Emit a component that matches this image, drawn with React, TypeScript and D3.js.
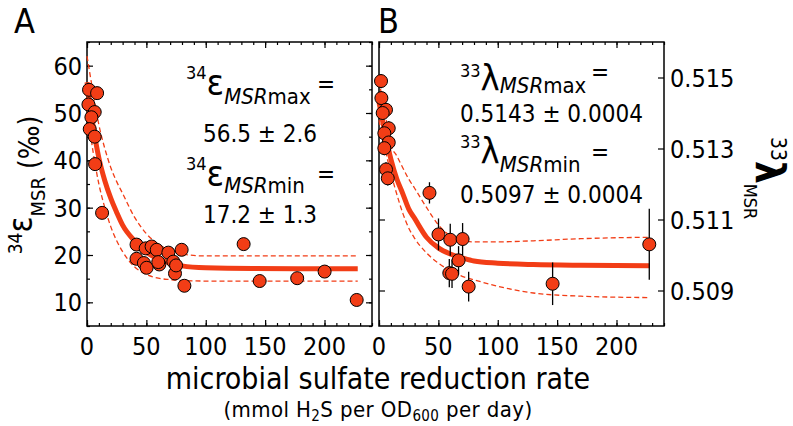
import React, { useEffect, useRef } from 'react';
import * as d3 from 'd3';

const W = 793;
const H = 426;
const FONT = "'DejaVu Sans Condensed', 'DejaVu Sans', sans-serif";
const RED = '#f23d16';

// panel A: sulfur isotope fractionation vs. rate
const rateA = [1.7, 8.5, 1.2, 6.5, 3.7, 2.3, 6.5, 6.8, 12.7, 41.7, 41.7, 47.9, 50.2, 49.4, 54.4, 58.7, 60.9, 60, 68.5, 72.7, 74.1, 75, 79.7, 82, 131.9, 145.4, 177, 200.1, 227.1];
const epsA = [54.9, 54.2, 51.8, 50.2, 49.1, 46.6, 45, 39.2, 28.9, 22.2, 19.2, 18.3, 17.3, 21.4, 21.8, 21.1, 18, 18.5, 20.5, 18.6, 16.1, 17.8, 21.1, 13.5, 22.3, 14.5, 15.1, 16.5, 10.5];

// fitted curve and its envelope
const fitRateA = [0, 5, 10, 15, 20, 25, 30, 40, 50, 60, 70, 80, 100, 140, 228];
const fitEpsA = [56.5, 47.5, 40.5, 35.7, 32, 29, 26.3, 23, 20.6, 19.2, 18.3, 17.7, 17.3, 17.15, 17.1];
const fitEpsHiA = [62, 54.5, 47.5, 42.5, 38.5, 35.5, 33, 28, 24.5, 22.3, 21, 20.2, 19.8, 19.8, 19.8];
const fitEpsLoA = [51, 42, 35, 30, 26, 23, 20.7, 17.5, 15.9, 15.1, 14.8, 14.6, 14.5, 14.5, 14.5];

// panel B: triple isotope exponent vs. rate
const rateB = [1.7, 2, 5.9, 3.1, 8.2, 4.5, 8.2, 4.5, 5.9, 7.4, 42.5, 50.1, 60, 70.4, 67, 59.2, 61.5, 75.5, 146.2, 227.6];
const lamB = [0.5149, 0.51442, 0.51409, 0.514, 0.51357, 0.51343, 0.51317, 0.51301, 0.51241, 0.51216, 0.51175, 0.51058, 0.51043, 0.51045, 0.50985, 0.50949, 0.50947, 0.50911, 0.50919, 0.5103];
const lamErrB = [0.0002, 0.0002, 0.0002, 0.0002, 0.0002, 0.0002, 0.0002, 0.0002, 0.0002, 0.0002, 0.0003, 0.00045, 0.00045, 0.00045, 0.0004, 0.0004, 0.0004, 0.00042, 0.0006, 0.001];

const fitRateB = [0, 5, 10, 15, 20, 25, 30, 40, 50, 60, 70, 80, 100, 130, 170, 228];
const fitLamB = [0.5143, 0.51345, 0.5127, 0.51214, 0.51173, 0.5113, 0.51103, 0.5105, 0.5102, 0.51003, 0.50992, 0.50983, 0.50977, 0.50973, 0.50971, 0.5097];
const fitLamHiB = [0.5149, 0.514, 0.5131, 0.51279, 0.51246, 0.51214, 0.51188, 0.51134, 0.51085, 0.51054, 0.5104, 0.51037, 0.51037, 0.5104, 0.51046, 0.5105];
const fitLamLoB = [0.5138, 0.513, 0.51231, 0.51171, 0.51118, 0.51076, 0.51047, 0.51006, 0.50977, 0.50956, 0.5094, 0.5093, 0.50912, 0.50893, 0.50884, 0.5088];

const xMajor = [0, 50, 100, 150, 200];
const xMinor = d3.range(0, 241, 10);
const yMajorA = [10, 20, 30, 40, 50, 60];
const yMinorA = d3.range(5, 66, 5);
const yMajorB = [0.509, 0.511, 0.513, 0.515];

const App = () => {
  const ref = useRef<SVGSVGElement>(null);

  useEffect(() => {
    const svg = d3.select(ref.current);
    svg.selectAll('*').remove();

    const top = 42;
    const bottom = 326;
    const xA = d3.scaleLinear().domain([0, 240]).range([87, 372]);
    const yA = d3.scaleLinear().domain([5, 65]).range([bottom, top]);
    const xB = d3.scaleLinear().domain([0, 240]).range([379, 664]);
    const yB = d3.scaleLinear().domain([0.508, 0.516]).range([bottom, top]);

    // ticks all point inward, on all four sides
    const frame = (x, y, yMajor, yMinor) => {
      const [x0, x1] = x.range();
      const g = svg.append('g');
      const tickAxis = (axis, tx, ty, values, size) => {
        const a = g.append('g')
          .attr('transform', `translate(${tx},${ty})`)
          .call(axis.tickValues(values).tickSize(-size).tickFormat(''));
        a.select('.domain').remove();
        a.selectAll('line').attr('stroke', '#000').attr('stroke-width', 1.2);
        a.selectAll('text').remove();
      };
      tickAxis(d3.axisBottom(x), 0, bottom, xMinor, 3);
      tickAxis(d3.axisBottom(x), 0, bottom, xMajor, 6);
      tickAxis(d3.axisTop(x), 0, top, xMinor, 3);
      tickAxis(d3.axisTop(x), 0, top, xMajor, 6);
      if (yMinor) {
        tickAxis(d3.axisLeft(y), x0, 0, yMinor, 3);
        tickAxis(d3.axisRight(y), x1, 0, yMinor, 3);
      }
      tickAxis(d3.axisLeft(y), x0, 0, yMajor, 6);
      tickAxis(d3.axisRight(y), x1, 0, yMajor, 6);
      g.append('rect')
        .attr('x', x0).attr('y', top)
        .attr('width', x1 - x0).attr('height', bottom - top)
        .attr('fill', 'none').attr('stroke', '#000').attr('stroke-width', 1.5);

      // x tick labels
      g.append('g').selectAll('text').data(xMajor).join('text')
        .attr('x', d => x(d)).attr('y', 355)
        .attr('text-anchor', 'middle')
        .attr('font-family', FONT).attr('font-size', 25)
        .text(d => d);
    };

    frame(xA, yA, yMajorA, yMinorA);
    frame(xB, yB, yMajorB, null);

    svg.append('g').selectAll('text').data(yMajorA).join('text')
      .attr('x', 82).attr('y', d => yA(d)).attr('dy', '0.36em')
      .attr('text-anchor', 'end')
      .attr('font-family', FONT).attr('font-size', 25)
      .text(d => d);
    svg.append('g').selectAll('text').data(yMajorB).join('text')
      .attr('x', 670).attr('y', d => yB(d)).attr('dy', '0.36em')
      .attr('font-family', FONT).attr('font-size', 25)
      .text(d => d3.format('.3f')(d));

    // fit curves
    const curves = (x, y, xs, mid, hi, lo) => {
      const line = d3.line().x(d => x(d[0])).y(d => y(d[1])).curve(d3.curveMonotoneX);
      const g = svg.append('g').attr('fill', 'none').attr('stroke', RED);
      [hi, lo].forEach(v => {
        g.append('path').datum(xs.map((r, i) => [r, v[i]]))
          .attr('d', line).attr('stroke-width', 1.3).attr('stroke-dasharray', '5,3');
      });
      g.append('path').datum(xs.map((r, i) => [r, mid[i]]))
        .attr('d', line).attr('stroke-width', 5);
    };
    curves(xA, yA, fitRateA, fitEpsA, fitEpsHiA, fitEpsLoA);
    curves(xB, yB, fitRateB, fitLamB, fitLamHiB, fitLamLoB);

    // error bars for panel B
    svg.append('g').selectAll('line').data(rateB).join('line')
      .attr('x1', d => xB(d)).attr('x2', d => xB(d))
      .attr('y1', (d, i) => yB(lamB[i] - lamErrB[i]))
      .attr('y2', (d, i) => yB(lamB[i] + lamErrB[i]))
      .attr('stroke', '#000').attr('stroke-width', 1.3);

    const dots = (x, y, xs, ys) => {
      svg.append('g').selectAll('circle').data(xs).join('circle')
        .attr('cx', d => x(d)).attr('cy', (d, i) => y(ys[i]))
        .attr('r', 6.5)
        .attr('fill', RED).attr('stroke', '#000').attr('stroke-width', 1);
    };
    dots(xA, yA, rateA, epsA);
    dots(xB, yB, rateB, lamB);

    // annotations
    const annot = (x, sup, greek, sub, b) => {
      const t = svg.append('text').attr('x', x).attr('font-family', FONT);
      t.append('tspan').attr('y', b.sup).attr('font-size', 18).text(sup);
      t.append('tspan').attr('y', b.greek).attr('font-size', 36).text(greek);
      t.append('tspan').attr('y', b.sub).attr('font-size', 22).attr('font-style', 'italic').text('MSR');
      t.append('tspan').attr('font-size', 22).text(sub);
    };
    const eq = (x, y) => svg.append('text').attr('x', x).attr('y', y)
      .attr('text-anchor', 'middle').attr('font-family', FONT).attr('font-size', 24).text('=');
    const val = (x, y, s) => svg.append('text').attr('x', x).attr('y', y)
      .attr('text-anchor', 'middle').attr('font-family', FONT).attr('font-size', 24).text(s);

    annot(186, '34', 'ε', 'max', { sup: 79, greek: 95, sub: 104 });
    eq(326, 92);
    val(260, 142, '56.5 ± 2.6');
    annot(186, '34', 'ε', 'min', { sup: 170, greek: 186, sub: 193 });
    eq(326, 182);
    val(260, 223, '17.2 ± 1.3');

    annot(460, '33', 'λ', 'max', { sup: 77, greek: 90, sub: 93 });
    eq(600, 80);
    svg.append('text').attr('x', 460).attr('y', 122)
      .attr('font-family', FONT).attr('font-size', 24).text('0.5143 ± 0.0004');
    annot(460, '33', 'λ', 'min', { sup: 148, greek: 163, sub: 172 });
    eq(600, 160);
    svg.append('text').attr('x', 460).attr('y', 203)
      .attr('font-family', FONT).attr('font-size', 24).text('0.5097 ± 0.0004');

    // panel letters
    svg.append('text').attr('x', 14).attr('y', 33).attr('font-family', FONT).attr('font-size', 34).text('A');
    svg.append('text').attr('x', 378).attr('y', 33).attr('font-family', FONT).attr('font-size', 34).text('B');

    // y-axis titles
    const ya = svg.append('text')
      .attr('transform', 'translate(41,185) rotate(-90)')
      .attr('text-anchor', 'middle').attr('font-family', FONT);
    ya.append('tspan').attr('font-size', 19).attr('dy', -19).text('34');
    ya.append('tspan').attr('font-size', 33).attr('dy', 10).text('ε');
    ya.append('tspan').attr('font-size', 20).attr('dy', 13).text('MSR');
    ya.append('tspan').attr('font-size', 28).attr('dy', -6).text(' (‰)');

    const yb = svg.append('text')
      .attr('transform', 'translate(756,137) rotate(90)')
      .attr('font-family', FONT);
    yb.append('tspan').attr('font-size', 21).attr('dy', -15).text('33');
    yb.append('tspan').attr('font-size', 40).attr('font-weight', 'bold').attr('dy', 15).text('λ');
    yb.append('tspan').attr('font-size', 18).attr('dy', 12).text('MSR');

    // x-axis titles
    svg.append('text').attr('x', 378).attr('y', 389)
      .attr('text-anchor', 'middle').attr('font-family', FONT).attr('font-size', 30)
      .text('microbial sulfate reduction rate');
    const xt = svg.append('text').attr('x', 378).attr('y', 417)
      .attr('text-anchor', 'middle').attr('font-family', FONT).attr('font-size', 22)
      .attr('letter-spacing', 0.4);
    xt.append('tspan').text('(mmol H');
    xt.append('tspan').attr('font-size', 15).attr('dy', 4).text('2');
    xt.append('tspan').attr('dy', -4).text('S per OD');
    xt.append('tspan').attr('font-size', 15).attr('dy', 4).text('600');
    xt.append('tspan').attr('dy', -4).text(' per day)');
  }, []);

  return (
    <svg ref={ref} width={W} height={H}
      style={{ position: 'absolute', left: 0, top: 0, background: '#fff' }} />
  );
};

export default App;
